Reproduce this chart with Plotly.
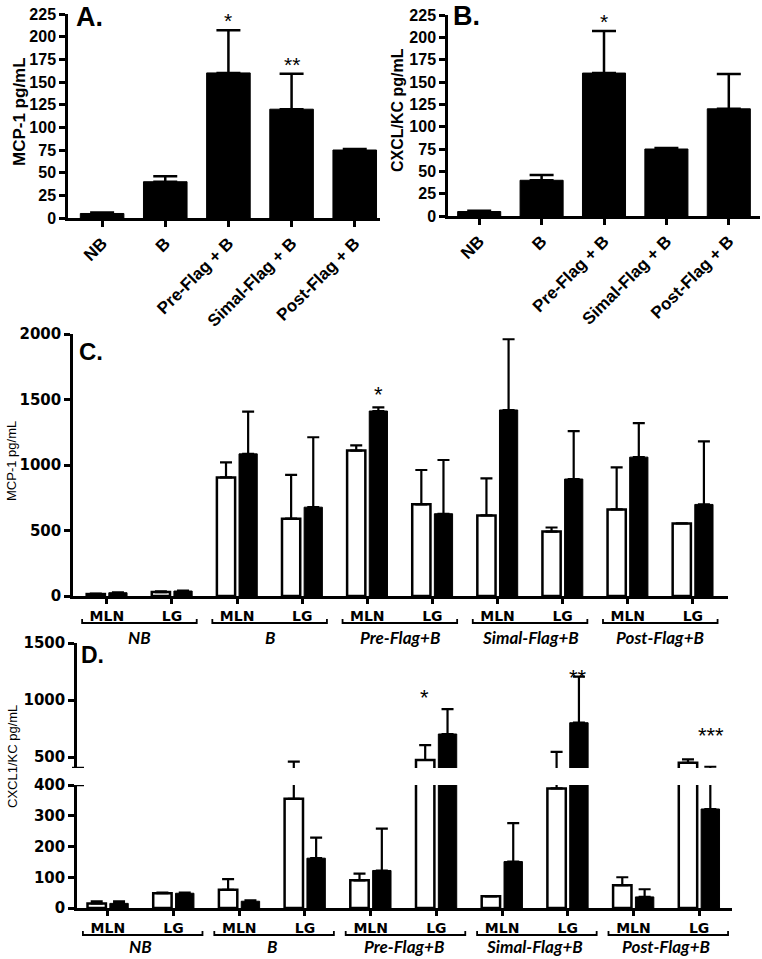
import plotly.graph_objects as go

W, H = 762, 959
FONT = "Liberation Sans, Arial, sans-serif"
WIDE = "DejaVu Sans, Liberation Sans, sans-serif"

# ---------------- data ----------------
a_cats = ["NB", "B", "Pre-Flag + B", "Simal-Flag + B", "Post-Flag + B"]
a_vals = [5, 40, 160, 120, 75]
a_err_top = [6, 46, 207, 159, 76]
a_stars = ["", "", "*", "**", ""]

b_cats = ["NB", "B", "Pre-Flag + B", "Simal-Flag + B", "Post-Flag + B"]
b_vals = [5, 40, 160, 75, 120]
b_err_top = [6, 46, 207, 76, 159]
b_stars = ["", "", "*", "", ""]
ab_yticks = [0, 25, 50, 75, 100, 125, 150, 175, 200, 225]

groups = ["NB", "B", "Pre-Flag+B", "Simal-Flag+B", "Post-Flag+B"]
tissues = ["MLN", "LG"]
sub_labels = [t for g in groups for t in tissues]

c_white = [15, 30, 905, 590, 1110, 700, 615, 492, 661, 554]
c_white_err = [18, 36, 1020, 925, 1150, 962, 898, 523, 982, None]
c_black = [25, 38, 1085, 678, 1412, 628, 1420, 893, 1060, 699]
c_black_err = [28, 42, 1408, 1212, 1440, 1038, 1960, 1258, 1319, 1181]
c_stars = ["", "", "", "", "*", "", "", "", "", ""]
c_yticks = [0, 500, 1000, 1500, 2000]

d_white = [15, 48, 59, 355, 90, 474, 38, 389, 74, 450]
d_white_err = [22, 50, 94, 460, 112, 605, None, 545, 100, 480]
d_black = [15, 48, 22, 162, 122, 702, 151, 801, 36, 322]
d_black_err = [22, 50, 25, 229, 258, 921, 276, 1205, 61, 415]
d_star_idx = [5, 7, 9]
d_star_text = ["*", "**", "***"]
d_star_y = [1060, 1235, 722]
d_star_dx = [-0.18, 0.15, 0.18]
d_low_ticks = [0, 100, 200, 300, 400]
d_high_ticks = [500, 1000, 1500]


def px(x):
    return x / W


def py(y):
    return 1 - y / H


def up_err(tops, vals):
    return [None if t is None else t - v for t, v in zip(tops, vals)]


def bold(lst):
    return ["<b>%s</b>" % v for v in lst]


fig = go.Figure()

# ---------------- panels A and B ----------------
for cats, vals, tops, xa, ya in [(a_cats, a_vals, a_err_top, "x", "y"),
                                 (b_cats, b_vals, b_err_top, "x2", "y2")]:
    fig.add_trace(go.Bar(
        x=list(range(len(cats))), y=vals, width=0.69,
        marker=dict(color="black", line=dict(color="black", width=1)),
        error_y=dict(type="data", symmetric=False, array=up_err(tops, vals),
                     arrayminus=[0] * len(vals), color="black", thickness=2.5, width=12),
        xaxis=xa, yaxis=ya, showlegend=False))

# ---------------- panel C ----------------
idx = list(range(len(sub_labels)))
fig.add_trace(go.Bar(
    x=idx, y=c_white, offset=-0.31, width=0.28,
    marker=dict(color="white", line=dict(color="black", width=2.5)),
    error_y=dict(type="data", symmetric=False, array=up_err(c_white_err, c_white),
                 arrayminus=[0] * 10, color="black", thickness=2.2, width=6),
    xaxis="x3", yaxis="y3", showlegend=False))
fig.add_trace(go.Bar(
    x=idx, y=c_black, offset=0.03, width=0.28,
    marker=dict(color="black", line=dict(color="black", width=1)),
    error_y=dict(type="data", symmetric=False, array=up_err(c_black_err, c_black),
                 arrayminus=[0] * 10, color="black", thickness=2.2, width=6),
    xaxis="x3", yaxis="y3", showlegend=False))

# ---------------- panel D (broken axis: y4 lower, y5 upper) ----------------
for ya in ["y4", "y5"]:
    fig.add_trace(go.Bar(
        x=idx, y=d_white, offset=-0.31, width=0.28,
        marker=dict(color="white", line=dict(color="black", width=2.5)),
        error_y=dict(type="data", symmetric=False, array=up_err(d_white_err, d_white),
                     arrayminus=[0] * 10, color="black", thickness=2.2, width=6),
        xaxis="x4", yaxis=ya, showlegend=False))
    fig.add_trace(go.Bar(
        x=idx, y=d_black, offset=0.03, width=0.28,
        marker=dict(color="black", line=dict(color="black", width=1)),
        error_y=dict(type="data", symmetric=False, array=up_err(d_black_err, d_black),
                     arrayminus=[0] * 10, color="black", thickness=2.2, width=6),
        xaxis="x4", yaxis=ya, showlegend=False))


# ---------------- axes ----------------
def ax(**kw):
    base = dict(showline=True, linecolor="black", linewidth=2.5, ticks="outside",
                tickcolor="black", tickwidth=2.5, ticklen=6, showgrid=False,
                zeroline=False, fixedrange=True, automargin=False,
                tickfont=dict(family=FONT, size=16, color="black"))
    base.update(kw)
    return base


small_tick = dict(family=WIDE, size=14, color="black")
rot_tick = dict(family=FONT, size=17, color="black")
cd_ytick = dict(family=WIDE, size=15, color="black")

layout_axes = dict(
    xaxis=ax(domain=[px(68), px(380)], range=[-0.54, 4.4], anchor="y",
             tickvals=list(range(5)), ticktext=bold(a_cats), tickangle=-45, tickfont=rot_tick),
    yaxis=ax(domain=[py(218), py(14)], range=[0, 225], anchor="x",
             tickvals=ab_yticks, ticktext=bold(ab_yticks)),
    xaxis2=ax(domain=[px(448), px(760)], range=[-0.5, 4.5], anchor="y2",
              tickvals=list(range(5)), ticktext=bold(b_cats), tickangle=-45, tickfont=rot_tick),
    yaxis2=ax(domain=[py(216), py(15)], range=[0, 225], anchor="x2",
              tickvals=ab_yticks, ticktext=bold(ab_yticks)),
    xaxis3=ax(domain=[px(73), px(728)], range=[-0.52, 9.54], anchor="y3",
              tickvals=idx, ticktext=bold(sub_labels), ticklen=5, tickfont=small_tick),
    yaxis3=ax(domain=[py(596), py(334)], range=[0, 2000], anchor="x3",
              tickvals=c_yticks, ticktext=bold(c_yticks), tickfont=cd_ytick),
    xaxis4=ax(domain=[px(77), px(732)], range=[-0.47, 9.5], anchor="y4",
              tickvals=idx, ticktext=bold(sub_labels), ticklen=5, tickfont=small_tick),
    yaxis4=ax(domain=[py(908), py(785)], range=[0, 400], anchor="x4",
              tickvals=d_low_ticks, ticktext=bold(d_low_ticks), tickfont=cd_ytick),
    yaxis5=ax(domain=[py(768), py(643)], range=[404, 1500], anchor="x4",
              tickvals=d_high_ticks, ticktext=bold(d_high_ticks), tickfont=cd_ytick),
)

annotations = []
shapes = []

# stars A/B/C
for stars, tops, xa, ya in [(a_stars, a_err_top, "x", "y"), (b_stars, b_err_top, "x2", "y2")]:
    for i, s in enumerate(stars):
        if s:
            annotations.append(dict(x=i, y=tops[i], xref=xa, yref=ya, text=s, showarrow=False,
                                    yanchor="bottom", yshift=-4,
                                    font=dict(family=FONT, size=21, color="black")))
for i, s in enumerate(c_stars):
    if s:
        annotations.append(dict(x=i + 0.17, y=c_black_err[i], xref="x3", yref="y3", text=s,
                                showarrow=False, yanchor="bottom", yshift=-2,
                                font=dict(family=FONT, size=22, color="black")))
for i, s, yv, dx in zip(d_star_idx, d_star_text, d_star_y, d_star_dx):
    annotations.append(dict(x=i + dx, y=yv, xref="x4", yref="y5", text=s, showarrow=False,
                            yanchor="middle", yshift=-4,
                            font=dict(family=FONT, size=22, color="black")))

# panel letters
for txt, x, y, size in [("A.", 74, 17, 27), ("B.", 451, 16, 27), ("C.", 77, 351, 24), ("D.", 79, 655, 23)]:
    annotations.append(dict(x=px(x), y=py(y), xref="paper", yref="paper", text="<b>%s</b>" % txt,
                            showarrow=False, xanchor="left", yanchor="middle",
                            font=dict(family=FONT, size=size, color="black")))

# y titles
for txt, x, y, size, bld in [("MCP-1 pg/mL", 20, 112, 17, True), ("CXCL/KC pg/mL", 398, 110, 16, True),
                             ("MCP-1 pg/mL", 12, 461, 13, False), ("CXCL1/KC pg/mL", 12, 757, 13, False)]:
    annotations.append(dict(x=px(x), y=py(y), xref="paper", yref="paper",
                            text=("<b>%s</b>" % txt) if bld else txt, textangle=-90,
                            showarrow=False, xanchor="center", yanchor="middle",
                            font=dict(family=FONT, size=size, color="black")))

# group brackets and italic labels for C and D
for xa, yb, ylab, size, lo, hi in [("x3", 623, 637, 17, -0.38, 1.38), ("x4", 935, 946, 17, -0.38, 1.44)]:
    for g, name in enumerate(groups):
        x0 = 2 * g + lo
        x1 = 2 * g + hi
        y0 = py(yb)
        y1 = py(yb - 4)
        shapes.append(dict(type="path", xref=xa, yref="paper",
                           path="M %f,%f L %f,%f L %f,%f L %f,%f" % (x0, y1, x0, y0, x1, y0, x1, y1),
                           line=dict(color="black", width=1.8)))
        annotations.append(dict(x=2 * g + 0.5, y=py(ylab), xref=xa, yref="paper",
                                text="<b><i>%s</i></b>" % name, showarrow=False,
                                yanchor="middle", borderpad=0,
                                font=dict(family="Lato, " + FONT, size=size, color="black")))

# break marks on D axis
for yv, ya in [(400, "y4"), (404, "y5")]:
    shapes.append(dict(type="line", xref="paper", yref=ya, x0=px(72), x1=px(84), y0=yv, y1=yv,
                       line=dict(color="black", width=2.5)))

fig.update_layout(
    width=W, height=H, margin=dict(l=0, r=0, t=0, b=0, pad=0),
    paper_bgcolor="white", plot_bgcolor="white", barmode="overlay",
    showlegend=False, annotations=annotations, shapes=shapes,
    font=dict(family=FONT, color="black"),
    **layout_axes)

fig.write_html("out.html", config={"displayModeBar": False},
               post_script="document.body.style.margin='0';document.documentElement.style.overflow='hidden';")
